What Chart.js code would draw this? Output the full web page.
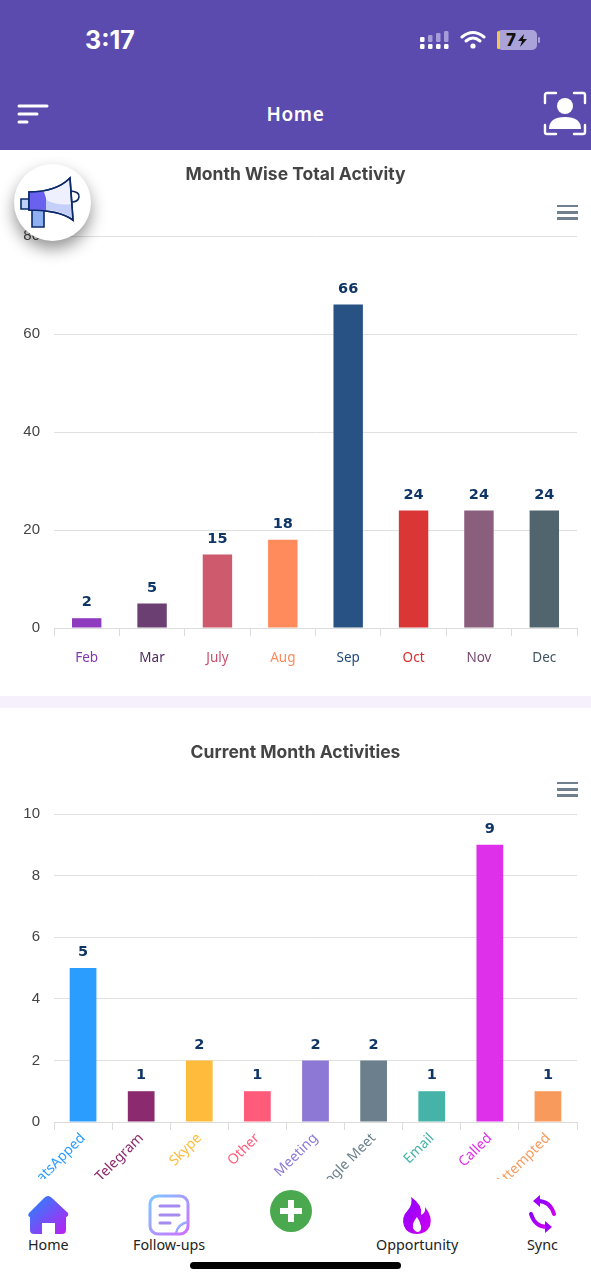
<!DOCTYPE html>
<html>
<head>
<meta charset="utf-8">
<title>Home</title>
<script src="https://cdn.jsdelivr.net/npm/chart.js@4"></script>
<style>
  html, body { margin: 0; padding: 0; background: #fff; }
  body { position: relative; width: 591px; height: 1280px; overflow: hidden; font-family: "Noto Sans", sans-serif; }
  .abs { position: absolute; }
  #top { left: 0; top: 0; width: 591px; height: 150px; background: #5b4bae; }
  #clock { left: 85px; top: 23px; color: #fff; font: 700 25px/34px Inter, sans-serif; }
  #pageTitle { left: 0; width: 591px; top: 100px; text-align: center; color: #fff; font: 600 19px/28px "Noto Sans", sans-serif; letter-spacing: .6px; }
  #band { left: 0; top: 696px; width: 591px; height: 12px; background: #f5f0fc; }
  canvas { position: absolute; left: 0; }
  #chart1 { top: 150px; }
  #chart2 { top: 708px; }
  #promo { left: 14px; top: 164px; width: 77px; height: 77px; border-radius: 50%; background: #fff; box-shadow: 0 8px 16px rgba(0,0,0,.42); }
  .menu { left: 557px; width: 21px; }
  .menu i { display: block; height: 2.4px; background: #71808f; margin-bottom: 3.8px; }
  .nav { top: 1236px; color: #222; font: 400 14.3px/18px "Noto Sans", sans-serif; }
  #homeBar { left: 190px; top: 1262px; width: 211px; height: 7px; border-radius: 4px; background: #000; }
</style>
</head>
<body>
<div id="top" class="abs"></div>
<div id="clock" class="abs">3:17</div>
<svg class="abs" style="left:418px;top:28px" width="125" height="24" viewBox="0 0 125 24">
  <g fill="#fff">
    <rect x="2" y="16" width="4.5" height="5" rx="1.2"/><rect x="10" y="16" width="4.5" height="5" rx="1.2"/><rect x="18" y="16" width="4.5" height="5" rx="1.2"/><rect x="26" y="16" width="4.5" height="5" rx="1.2"/>
    <rect x="2" y="9" width="4.5" height="5" rx="1.2"/>
  </g>
  <g fill="#a59cd8"><rect x="10" y="7" width="4.5" height="7" rx="1.2"/><rect x="18" y="5" width="4.5" height="9" rx="1.2"/><rect x="26" y="3" width="4.5" height="11" rx="1.2"/></g>
  <g fill="none" stroke="#fff" stroke-width="3" stroke-linecap="round">
    <path d="M44 9 Q55 0 66 9"/><path d="M48 13 Q55 7 62 13"/>
  </g>
  <circle cx="55" cy="18" r="2.6" fill="#fff"/>
  <rect x="79" y="2" width="40" height="20" rx="5" fill="#aaa3d9"/>
  <rect x="79" y="3" width="3" height="18" rx="1.5" fill="#f2c94c"/>
  <rect x="120" y="9" width="2" height="6" rx="1" fill="#aaa3d9"/>
  <text x="88" y="18" font-family="Inter" font-weight="800" font-size="17" fill="#111">7</text>
  <path d="M106 6 L100 13 H104 L102 19 L109 11 H105 Z" fill="#111"/>
</svg>
<svg class="abs" style="left:16px;top:103px" width="34" height="22" viewBox="0 0 34 22">
  <g stroke="#fff" stroke-width="3" stroke-linecap="round"><path d="M3 3 H31"/><path d="M3 11 H21"/><path d="M3 19 H11"/></g>
</svg>
<div id="pageTitle" class="abs">Home</div>
<svg class="abs" style="left:543px;top:91px" width="44" height="45" viewBox="0 0 44 45">
  <g fill="none" stroke="#fff" stroke-width="2.4" stroke-linecap="round">
    <path d="M2 12 V4 Q2 2 4 2 H13"/><path d="M31 2 H40 Q42 2 42 4 V12"/><path d="M2 34 V41 Q2 43 4 43 H13"/><path d="M31 43 H40 Q42 43 42 41 V34"/>
  </g>
  <circle cx="22" cy="15" r="8" fill="#fff"/>
  <path d="M6 38 Q6 26 22 26 Q38 26 38 38 Z" fill="#fff"/>
</svg>

<canvas id="chart1" width="591" height="546"></canvas>
<div id="band" class="abs"></div>
<canvas id="chart2" width="591" height="471"></canvas>

<div class="abs menu" style="top:205px"><i></i><i></i><i></i></div>
<div class="abs menu" style="top:782px"><i></i><i></i><i></i></div>

<div id="promo" class="abs">
  <svg width="77" height="77" viewBox="0 0 77 77">
    <path d="M7 35 H15 V45 H7 Z" fill="#bcd0f8" stroke="#0c2a6b" stroke-width="1.6"/>
    <path d="M18 46 H30 V63 H18 Z" fill="#8fb0f0" stroke="#0c2a6b" stroke-width="1.6"/>
    <path d="M57 27 Q66 28 65 33 Q64 38 58 38" fill="none" stroke="#0c2a6b" stroke-width="1.6"/>
    <path d="M15 28 Q42 28 56 14 L59 56 Q45 46 15 46 Z" fill="#eef1fd" stroke="#0c2a6b" stroke-width="1.6"/>
    <path d="M15 28 H30 Q34 38 32 46 H15 Z" fill="#6a62ee"/>
    <path d="M32 36 Q45 42 57 40 L58 54 Q45 46 32 46 Z" fill="#c4d0fa"/>
    <path d="M15 28 Q42 28 56 14 L59 56 Q45 46 15 46 Z" fill="none" stroke="#0c2a6b" stroke-width="1.6"/>
  </svg>
</div>

<svg class="abs" style="left:0;top:1190px" width="591" height="46" viewBox="0 0 591 46">
  <defs>
    <linearGradient id="homeGrad" x1="0" y1="0" x2="1" y2="1"><stop offset="0" stop-color="#1e8bff"/><stop offset="1" stop-color="#c01cf0"/></linearGradient>
    <linearGradient id="noteGrad" x1="0" y1="0" x2="1" y2="1"><stop offset="0" stop-color="#7cc8ff"/><stop offset="1" stop-color="#d070ff"/></linearGradient>
    <linearGradient id="fireGrad" x1="0" y1="0" x2="1" y2="1"><stop offset="0" stop-color="#8a00ff"/><stop offset="1" stop-color="#d000f0"/></linearGradient>
  </defs>
  <path d="M48 6 Q50 6 52 8 L68 23 Q69 26 66 27 V40 Q66 44 62 44 H55 V33 H42 V44 H34 Q30 44 30 40 V27 Q27 26 29 23 L44 8 Q46 6 48 6 Z" fill="url(#homeGrad)"/>
  <rect x="150" y="6" width="38" height="38" rx="8" fill="none" stroke="url(#noteGrad)" stroke-width="3"/>
  <g stroke="#a58af0" stroke-width="3" stroke-linecap="round"><path d="M160 16 H179"/><path d="M160 25 H179"/><path d="M160 33 H170"/></g>
  <path d="M176 43 Q178 34 188 32" fill="#fff" stroke="url(#noteGrad)" stroke-width="2.4"/>
  <ellipse cx="291" cy="21" rx="21" ry="21" fill="#4aa94e"/>
  <path d="M291 10 V32 M280 21 H302" stroke="#fff" stroke-width="6"/>
  <path d="M411 7 Q423 15 421 25 Q426 23 425 17 Q433 27 430 36 Q426 44 417 44 Q407 44 404 36 Q401 27 408 20 Q413 14 411 7 Z M417 27 Q412 33 413 38 Q415 42 418 42 Q422 41 421 36 Q420 31 417 27 Z" fill="url(#fireGrad)" fill-rule="evenodd"/>
  <g fill="none" stroke="url(#fireGrad)" stroke-width="4" stroke-linecap="round">
    <path d="M538 11 Q550 11 554 24"/><path d="M547 37 Q535 37 531 24"/>
  </g>
  <path d="M540 5 L533 11 L540 17 Z M545 43 L552 37 L545 31 Z" fill="#a000ff"/>
</svg>
<div class="abs nav" style="left:28px">Home</div>
<div class="abs nav" style="left:133px">Follow-ups</div>
<div class="abs nav" style="left:376px">Opportunity</div>
<div class="abs nav" style="left:527px">Sync</div>
<div id="homeBar" class="abs"></div>

<script>
const monthLabels = ["Feb", "Mar", "July", "Aug", "Sep", "Oct", "Nov", "Dec"];
const monthValues = [2, 5, 15, 18, 66, 24, 24, 24];
const monthBarColors = ["#8e3bbf", "#6b3f72", "#ce5a6e", "#ff8a5c", "#285283", "#da3636", "#8a5f7e", "#51656f"];
const monthTickColors = ["#8338b0", "#4d2a5c", "#c9506a", "#ff8a5c", "#1f4a7c", "#d62d2d", "#7a4a70", "#40535e"];

const activityLabels = ["WhatsApped", "Telegram", "Skype", "Other", "Meeting", "Google Meet", "Email", "Called", "Not Attempted"];
const activityValues = [5, 1, 2, 1, 2, 2, 1, 9, 1];
const activityBarColors = ["#2a9dff", "#8b2a6e", "#ffbb3b", "#ff5c7c", "#8e78d6", "#6b808c", "#45b3a8", "#de30ea", "#f79a5c"];

// values above the bars
const barValues = {
  id: "barValues",
  afterDatasetsDraw(chart) {
    const ctx = chart.ctx;
    const ds = chart.data.datasets[0];
    ctx.save();
    ctx.font = "bold 14.5px 'DejaVu Sans'";
    ctx.fillStyle = "#0e3566";
    ctx.textAlign = "center";
    ctx.textBaseline = "middle";
    chart.getDatasetMeta(0).data.forEach((bar, i) => {
      ctx.fillText(ds.data[i], bar.x, bar.y - 15.5);
    });
    ctx.restore();
  },
};

function makeChart(id, title, labels, values, barColors, tickColors, opts) {
  return new Chart(document.getElementById(id), {
    type: "bar",
    plugins: [barValues],
    data: {
      labels: labels,
      datasets: [
        {
          data: values,
          backgroundColor: barColors,
          barPercentage: opts.barPercentage,
          categoryPercentage: 1,
        },
      ],
    },
    options: {
      responsive: false,
      animation: false,
      devicePixelRatio: 1,
      layout: {
        padding: { left: 14, right: 14, top: 0, bottom: 0 },
      },
      plugins: {
        legend: { display: false },
        tooltip: { enabled: false },
        title: {
          display: true,
          text: title,
          color: "#444",
          font: { family: "Inter", size: 17.5, weight: "bold" },
          padding: opts.titlePadding,
        },
      },
      scales: {
        x: {
          afterFit(scale) {
            scale.height = opts.xHeight;
          },
          border: { color: "#dcdcdc" },
          grid: { drawOnChartArea: false, tickLength: 8, color: "#dcdcdc" },
          ticks: {
            autoSkip: false,
            padding: opts.xPadding,
            minRotation: opts.rotation,
            maxRotation: opts.rotation,
            color: tickColors,
            font: { family: "Noto Sans", size: opts.tickSize },
          },
        },
        y: {
          min: 0,
          max: opts.max,
          afterFit(scale) {
            scale.width = 40;
          },
          border: { display: false },
          grid: { color: "#e0e0e0", drawTicks: false },
          ticks: {
            stepSize: opts.step,
            padding: 14,
            color: "#444",
            font: { family: "Liberation Sans", size: 15 },
          },
        },
      },
    },
  });
}

makeChart("chart1", "Month Wise Total Activity", monthLabels, monthValues, monthBarColors, monthTickColors, {
  barPercentage: 0.45,
  max: 80,
  step: 20,
  rotation: 0,
  xHeight: 68,
  xPadding: 14,
  tickSize: 13.5,
  titlePadding: { top: 14, bottom: 51 },
});

makeChart("chart2", "Current Month Activities", activityLabels, activityValues, activityBarColors, activityBarColors, {
  barPercentage: 0.46,
  max: 10,
  step: 2,
  rotation: 45,
  xHeight: 57,
  xPadding: 0,
  tickSize: 14,
  titlePadding: { top: 34, bottom: 51 },
});
</script>
</body>
</html>
